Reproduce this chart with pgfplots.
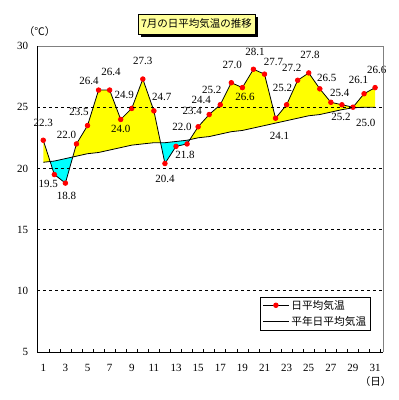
\documentclass[border=0pt]{standalone}
\usepackage{fontspec}
\setmainfont{Liberation Serif}
\newfontfamily\cjk{Noto Sans CJK JP}
\usepackage{pgfplots}
\pgfplotsset{compat=1.18}
\usepgfplotslibrary{fillbetween}
\definecolor{fillyellow}{RGB}{255,255,0}
\definecolor{fillcyan}{RGB}{0,255,255}
\definecolor{titlebg}{RGB}{255,255,153}
\definecolor{framegray}{RGB}{128,128,128}
\pgfplotsset{
  legA/.style={legend image code/.code={\draw[mark repeat=2,mark phase=2,##1] plot coordinates {(0pt,0pt) (13pt,0pt) (26pt,0pt)};}},
  legN/.style={legend image code/.code={\draw[##1] (0pt,0pt) -- (26pt,0pt);}},
}
\newcommand{\lbl}[5]{\node[font=\fontsize{11}{11}\selectfont, inner sep=0pt, anchor=center, xshift=#3pt, yshift=#4pt] at (axis cs:#1,#2) {#5};}
\begin{document}
\begin{tikzpicture}[x=1pt,y=1pt]
\path (0,0) rectangle (399,400);
\begin{axis}[
  at={(37.3pt,48pt)}, anchor=south west,
  scale only axis, width=346pt, height=306pt,
  xmin=0.46, xmax=31.74, ymin=5, ymax=30,
  clip=false,
  axis x line*=bottom, axis y line*=left,
  axis line style={black, line width=0.8pt},
  axis on top,
  /pgf/number format/assume math mode=true,
  xtick={1,3,...,31},
  minor xtick={0.5,1.5,...,31.5},
  ytick={5,10,...,30},
  major tick length=0pt,
  minor tick length=3pt,
  tick align=inside,
  minor tick style={black, line width=0.6pt},
  extra y ticks={10,15,20,25},
  extra y tick labels={},
  extra y tick style={grid=major, major grid style={black, dash pattern=on 3pt off 3pt, line width=0.6pt}},
  xticklabel style={font=\fontsize{11}{11}\selectfont, anchor=base, inner sep=0pt, yshift=-19.7pt},
  yticklabel style={font=\fontsize{11}{11}\selectfont, anchor=east, inner sep=0pt, xshift=-9pt},
  legend style={at={(0.644,0.181)}, anchor=north west, draw=black, line width=0.8pt, fill=white,
    font=\cjk\fontsize{10.7}{12}\selectfont, inner xsep=2pt, inner ysep=1pt, row sep=2pt},
  legend cell align=left,
  after end axis/.code={\draw[framegray, line width=0.8pt] (rel axis cs:0,1) -- (rel axis cs:1,1) -- (rel axis cs:1,0);},
]
\addplot[name path=A, draw=none, forget plot] coordinates {
(1,22.3) (2,19.5) (3,18.8) (4,22.0) (5,23.5) (6,26.4) (7,26.4) (8,24.0) (9,24.9) (10,27.3)
(11,24.7) (12,20.4) (13,21.8) (14,22.0) (15,23.4) (16,24.4) (17,25.2) (18,27.0) (19,26.6) (20,28.1)
(21,27.7) (22,24.1) (23,25.2) (24,27.2) (25,27.8) (26,26.5) (27,25.4) (28,25.2) (29,25.0) (30,26.1) (31,26.6)};
\addplot[name path=N, draw=none, forget plot] coordinates {
(1,20.5) (2,20.6) (3,20.8) (4,21.0) (5,21.2) (6,21.3) (7,21.5) (8,21.7) (9,21.9) (10,22.0)
(11,22.1) (12,22.1) (13,22.2) (14,22.3) (15,22.5) (16,22.6) (17,22.8) (18,23.0) (19,23.1) (20,23.3)
(21,23.5) (22,23.7) (23,23.9) (24,24.1) (25,24.3) (26,24.4) (27,24.6) (28,24.8) (29,24.95) (30,25.0) (31,25.0)};
\addplot[fill=fillyellow, draw=none, forget plot] fill between[of=A and N, split,
  every segment no 1/.style={fill=fillcyan}, every segment no 3/.style={fill=fillcyan}];
\addplot[black, line width=0.8pt, mark=*, mark size=2.3pt, mark options={fill=red, draw=red}, legA]
coordinates {
(1,22.3) (2,19.5) (3,18.8) (4,22.0) (5,23.5) (6,26.4) (7,26.4) (8,24.0) (9,24.9) (10,27.3)
(11,24.7) (12,20.4) (13,21.8) (14,22.0) (15,23.4) (16,24.4) (17,25.2) (18,27.0) (19,26.6) (20,28.1)
(21,27.7) (22,24.1) (23,25.2) (24,27.2) (25,27.8) (26,26.5) (27,25.4) (28,25.2) (29,25.0) (30,26.1) (31,26.6)};
\addlegendentry{日平均気温}
\addplot[black, line width=0.8pt, no marks, legN]
coordinates {
(1,20.5) (2,20.6) (3,20.8) (4,21.0) (5,21.2) (6,21.3) (7,21.5) (8,21.7) (9,21.9) (10,22.0)
(11,22.1) (12,22.1) (13,22.2) (14,22.3) (15,22.5) (16,22.6) (17,22.8) (18,23.0) (19,23.1) (20,23.3)
(21,23.5) (22,23.7) (23,23.9) (24,24.1) (25,24.3) (26,24.4) (27,24.6) (28,24.8) (29,24.95) (30,25.0) (31,25.0)};
\addlegendentry{平年日平均気温}
\lbl{1}{22.3}{0}{17.5}{22.3}
\lbl{2}{19.5}{-6}{-9.5}{19.5}
\lbl{3}{18.8}{1}{-12.6}{18.8}
\lbl{4}{22.0}{-10}{9}{22.0}
\lbl{5}{23.5}{-8.5}{14}{23.5}
\lbl{6}{26.4}{-9.6}{9}{26.4}
\lbl{7}{26.4}{1.3}{18.4}{26.4}
\lbl{8}{24.0}{0}{-9}{24.0}
\lbl{9}{24.9}{-7.5}{13.4}{24.9}
\lbl{10}{27.3}{0}{18}{27.3}
\lbl{11}{24.7}{7.8}{13.6}{24.7}
\lbl{12}{20.4}{0}{-15.8}{20.4}
\lbl{13}{21.8}{9}{-8.6}{21.8}
\lbl{14}{22.0}{-5}{17.2}{22.0}
\lbl{15}{23.4}{-6}{15.8}{23.4}
\lbl{16}{24.4}{-8}{14.5}{24.4}
\lbl{17}{25.2}{-8.5}{14.8}{25.2}
\lbl{18}{27.0}{1}{17.7}{27.0}
\lbl{19}{26.6}{2.7}{-9}{26.6}
\lbl{20}{28.1}{1.6}{17}{28.1}
\lbl{21}{27.7}{9}{12}{27.7}
\lbl{22}{24.1}{4}{-17.8}{24.1}
\lbl{23}{25.2}{-4}{16.5}{25.2}
\lbl{24}{27.2}{-6}{12.6}{27.2}
\lbl{25}{27.8}{1.3}{18}{27.8}
\lbl{26}{26.5}{7}{10.5}{26.5}
\lbl{27}{25.4}{9}{9.6}{25.4}
\lbl{28}{25.2}{-1}{-12}{25.2}
\lbl{29}{25.0}{12.8}{-15.5}{25.0}
\lbl{30}{26.1}{-5.6}{13.7}{26.1}
\lbl{31}{26.6}{1.7}{17.6}{26.6}
\end{axis}
\fill[black] (141,363) rectangle (258,383);
\node[draw=black, line width=0.8pt, fill=titlebg, minimum width=117pt, minimum height=20pt, inner sep=0pt,
  font=\cjk\fontsize{10.5}{12}\selectfont] at (196.5,376) {7月の日平均気温の推移};
\node[font=\cjk\fontsize{10.5}{12}\selectfont, inner sep=0pt] at (39.5,368) {（℃）};
\node[font=\cjk\fontsize{10.5}{12}\selectfont, inner sep=0pt] at (375.5,18) {（日）};
\end{tikzpicture}
\end{document}
